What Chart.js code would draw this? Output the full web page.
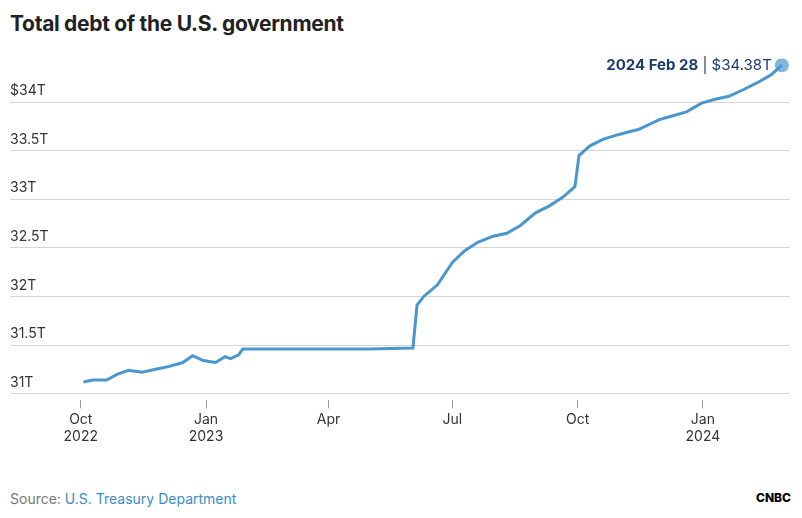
<!DOCTYPE html>
<html><head><meta charset="utf-8">
<script src="https://cdn.jsdelivr.net/npm/chart.js@4"></script>
<style>
body{margin:0;background:#fff;font-family:Inter,"Open Sans",sans-serif;width:802px;height:518px;position:relative;overflow:hidden}
#t{position:absolute;left:10px;top:11px;font-size:21px;font-weight:700;color:#222;letter-spacing:-0.3px}
#wrap{position:absolute;left:0;top:50px;width:802px;height:398px}
#src{position:absolute;left:10px;top:490px;font-size:14px;color:#777}
#src span{color:#3a8cc4}
#logo{position:absolute;left:756px;top:490px;font-size:12px;font-weight:800;color:#000}
</style></head><body>
<div id="t">Total debt of the U.S. government</div>
<div id="wrap"><canvas id="c"></canvas></div>
<div id="src">Source: <span>U.S. Treasury Department</span></div>
<div id="logo">CNBC</div>
<script>
const dates = ["2022-10-03","2022-10-10","2022-10-20","2022-10-28","2022-11-05","2022-11-15","2022-11-25","2022-12-05","2022-12-15","2022-12-22","2022-12-30","2023-01-08","2023-01-15","2023-01-19","2023-01-25","2023-01-28","2023-03-01","2023-04-01","2023-05-01","2023-06-02","2023-06-05","2023-06-10","2023-06-20","2023-07-01","2023-07-10","2023-07-20","2023-07-31","2023-08-10","2023-08-20","2023-08-31","2023-09-10","2023-09-20","2023-09-29","2023-10-02","2023-10-10","2023-10-20","2023-11-01","2023-11-15","2023-11-30","2023-12-10","2023-12-20","2023-12-31","2024-01-10","2024-01-20","2024-01-31","2024-02-10","2024-02-20","2024-02-28"];
const debt = [31.12,31.14,31.14,31.2,31.24,31.22,31.25,31.28,31.32,31.39,31.34,31.32,31.38,31.36,31.4,31.46,31.46,31.46,31.46,31.47,31.91,32.0,32.12,32.35,32.47,32.56,32.62,32.65,32.73,32.86,32.93,33.02,33.13,33.45,33.55,33.62,33.67,33.72,33.82,33.86,33.9,33.99,34.03,34.06,34.13,34.2,34.28,34.38];
const yTicks = [31,31.5,32,32.5,33,33.5,34];
const xTickDates = ["2022-10-01","2023-01-01","2023-04-01","2023-07-01","2023-10-01","2024-01-01"];
const xTickLabels = [["Oct","2022"],["Jan","2023"],["Apr",""],["Jul",""],["Oct",""],["Jan","2024"]];

const base = Date.UTC(2022,9,1);
const day = s => (Date.parse(s+"T00:00:00Z")-base)/86400000;
const pts = dates.map((d,i)=>({x:day(d),y:debt[i]}));
const xTickVals = xTickDates.map(day);
const last = pts.length-1;

const labelPlugin = {
  id:"lbl",
  afterDatasetsDraw(ch){
    const p = ch.getDatasetMeta(0).data[last];
    const c = ch.ctx; c.save();
    c.textBaseline="middle"; c.textAlign="right";
    c.font="15px Inter"; c.fillStyle="#1d3c6e";
    const t2=" | $"+debt[last].toFixed(2)+"T";
    const w2=c.measureText(t2).width;
    c.fillText(t2,p.x-10,p.y);
    c.font="bold 15px Inter";
    c.fillText("2024 Feb 28",p.x-10-w2,p.y);
    c.restore();
  }
};

new Chart(document.getElementById("c"),{
  type:"line",
  data:{datasets:[{data:pts,borderColor:"#4a97cf",borderWidth:3,tension:0,
    pointRadius:pts.map((p,i)=>i===last?7:0),pointBackgroundColor:"rgba(74,151,207,0.7)",pointBorderWidth:0}]},
  options:{responsive:true,maintainAspectRatio:false,animation:false,
    layout:{padding:{left:10,right:12,top:0,bottom:0}},
    plugins:{legend:{display:false},tooltip:{enabled:false}},
    scales:{
      x:{type:"linear",min:-52,max:521,
        afterBuildTicks:a=>{a.ticks=xTickVals.map(v=>({value:v}));},
        ticks:{callback:(v)=>xTickLabels[xTickVals.indexOf(v)],color:"#333",font:{size:14,family:"Inter"},maxRotation:0,autoSkip:false},
        grid:{display:true,drawOnChartArea:false,tickLength:8,color:"#999"},border:{display:false}},
      y:{min:30.93,max:34.45,
        afterBuildTicks:a=>{a.ticks=yTicks.map(v=>({value:v}));},
        ticks:{mirror:true,labelOffset:-11,padding:0,color:"#333",font:{size:14,family:"Inter"},
          callback:v=>(v===34?"$34T":v+"T")},
        grid:{color:"#d5d5d5",drawTicks:false},border:{display:false}}
    }},
  plugins:[labelPlugin]
});
</script>
</body></html>
